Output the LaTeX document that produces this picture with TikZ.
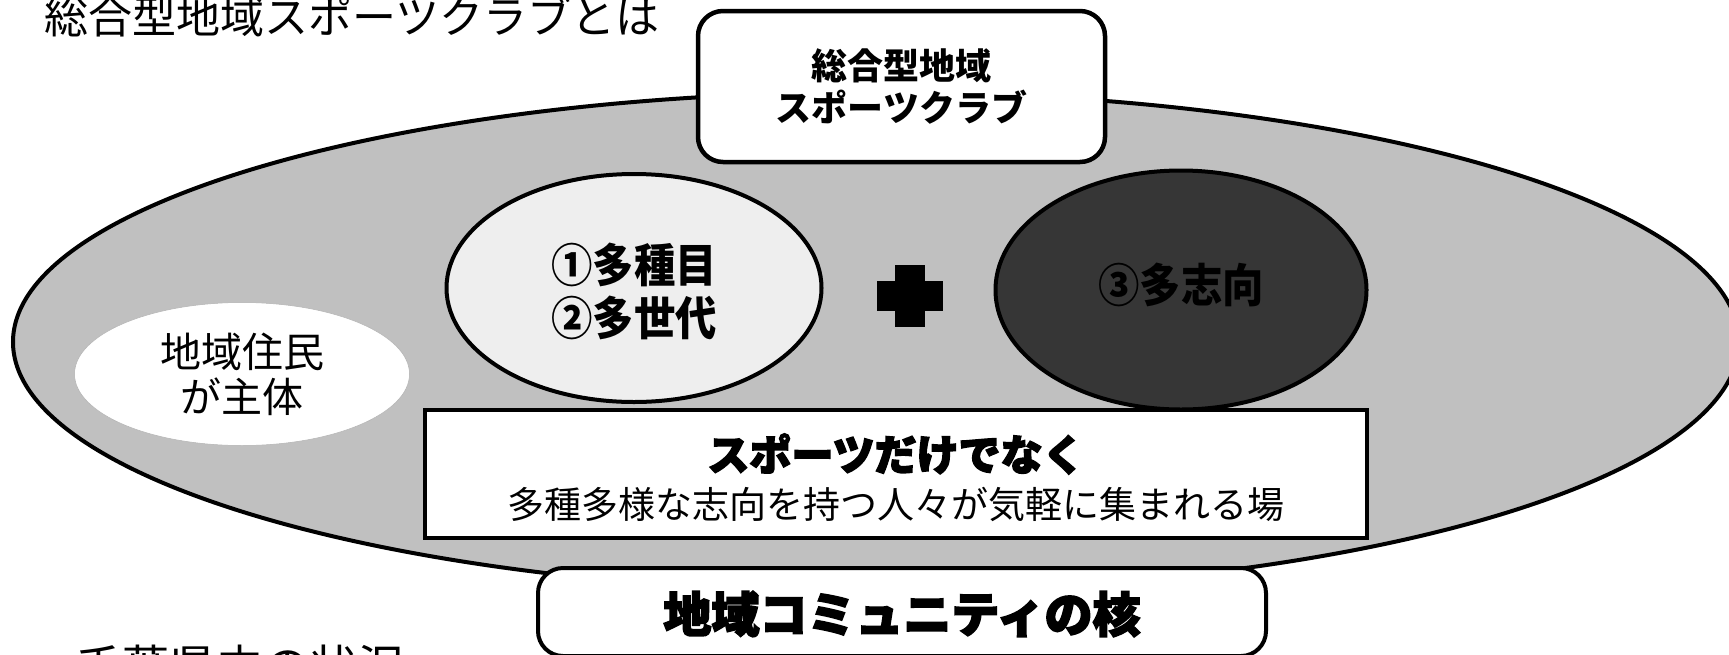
\documentclass[tikz,border=0pt]{standalone}
\usepackage{fontspec}
\usetikzlibrary{shapes.geometric}
\newfontfamily\jp{Noto Sans CJK JP}
\newfontfamily\jpheavy[BoldFeatures={FakeBold=3.5}]{Noto Sans CJK JP}
\definecolor{bggray}{HTML}{C0C0C0}
\definecolor{lightfill}{HTML}{EEEEEE}
\definecolor{darkfill}{HTML}{363636}
\tikzset{
  oval/.style={ellipse, draw, line width=4pt, inner sep=0pt},
  boxline/.style={draw, line width=4pt, fill=white, inner sep=0pt},
  txt/.style={inner sep=0pt, align=center, text=black},
}
\begin{document}
\begin{tikzpicture}[x=1pt,y=-1pt]
\useasboundingbox (0,0) rectangle (1729,654);
\clip (0,0) rectangle (1729,654);
% title
\node[txt, anchor=base west, font=\fontsize{44}{50}\selectfont\jp] (title) at (44,33) {総合型地域スポーツクラブとは};
% big ellipse
\node[oval, fill=bggray, minimum width=1726, minimum height=500] (club) at (876,342) {};
% residents ellipse
\node[ellipse, draw=gray!60, line width=0.5pt, fill=white, inner sep=0pt, minimum width=335, minimum height=143] (res) at (242,374) {};
\node[txt, font=\fontsize{41}{45}\selectfont\jp] (restxt) at (res.center) {地域住民\\が主体};
% light ellipse
\node[oval, fill=lightfill, minimum width=375, minimum height=228] (multi) at (634,288) {};
\node[txt, font=\fontsize{46}{53}\selectfont\jp\bfseries] (multitxt) at (634,291) {\scalebox{0.9}[1]{①多種目}\\\scalebox{0.9}[1]{②多世代}};
% plus sign
\fill (877,281) rectangle (943,311);
\fill (895,265) rectangle (925,327);
% dark ellipse
\node[oval, fill=darkfill, minimum width=371, minimum height=239] (orient) at (1181,290) {};
\node[txt, font=\fontsize{46}{53}\selectfont\jp\bfseries] (orienttxt) at (1181,285) {\scalebox{0.9}[1]{③多志向}};
% white rectangle
\node[boxline, minimum width=942, minimum height=128] (place) at (896,474) {};
\node[txt, font=\fontsize{42}{48}\selectfont\jpheavy\bfseries] (placetitle) at (896,454) {スポーツだけでなく};
\node[txt, font=\fontsize{37}{42}\selectfont\jp] (placetxt) at (896,504) {多種多様な志向を持つ人々が気軽に集まれる場};
% top box
\node[boxline, rounded corners=25pt, line width=4.5pt, minimum width=407, minimum height=151] (clubbox) at (901.5,86.5) {};
\node[txt, font=\fontsize{36}{42}\selectfont\jp\bfseries] (clubtxt) at (clubbox.center) {総合型地域\\スポーツクラブ};
% bottom box
\node[boxline, rounded corners=25pt, minimum width=728, minimum height=88] (core) at (902,612) {};
\node[txt, font=\fontsize{48}{52}\selectfont\jpheavy\bfseries] (coretxt) at (902,614) {地域コミュニティの核};
% cut-off bottom text
\node[txt, anchor=base west, font=\fontsize{47}{52}\selectfont\jp] (status) at (75,684) {千葉県内の状況};
\end{tikzpicture}
\end{document}
